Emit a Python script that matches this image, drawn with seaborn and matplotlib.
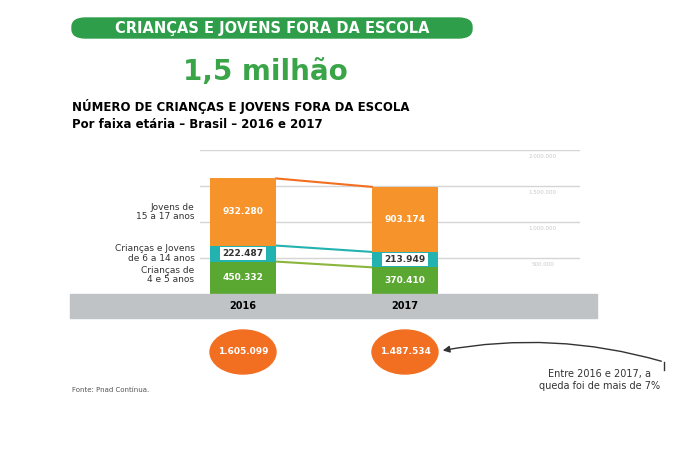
import numpy as np
import pandas as pd
import matplotlib
matplotlib.use("Agg")
import matplotlib.pyplot as plt
import seaborn as sns
from matplotlib.patches import FancyBboxPatch, Circle, Rectangle

anos = ["2016", "2017"]
faixa_4_5 = [450332, 370410]
faixa_6_14 = [222487, 213949]
faixa_15_17 = [932280, 903174]
totais = ["1.605.099", "1.487.534"]
rotulos_faixa = ["Crianças de\n4 e 5 anos", "Crianças e Jovens\nde 6 a 14 anos", "Jovens de\n15 a 17 anos"]
ticks_y = [500000, 1000000, 1500000, 2000000]
ticks_lbl = ["500.000", "1.000.000", "1.500.000", "2.000.000"]

verde = "#5aa832"
teal = "#22b3b0"
laranja = "#f7932b"
laranja_c = "#f26f21"

def fmt(v):
    return f"{v:,}".replace(",", ".")

fig = plt.figure(figsize=(6.75, 4.5), dpi=100)
W, H = 675, 450

def fx(px):
    return px / W

def fy(py):
    return 1 - py / H

# header
fig.patches.append(FancyBboxPatch((fx(72), fy(38)), fx(400), 20 / H, boxstyle="round,pad=0,rounding_size=0.02",
                                  transform=fig.transFigure, color="#2e9e4a", zorder=0))
fig.text(fx(272), fy(28), "CRIANÇAS E JOVENS FORA DA ESCOLA", color="white", fontsize=10.5,
         fontweight="bold", ha="center", va="center")
fig.text(fx(265), fy(72), "1,5 milhão", color="#3aa548", fontsize=20, fontweight="bold", ha="center", va="center")
fig.text(fx(72), fy(107), "NÚMERO DE CRIANÇAS E JOVENS FORA DA ESCOLA", fontsize=8.5, fontweight="bold", va="center")
fig.text(fx(72), fy(124), "Por faixa etária – Brasil – 2016 e 2017", fontsize=8.5, fontweight="bold", va="center")

# grey band
fig.patches.append(Rectangle((fx(70), fy(318)), fx(527), 24 / H, transform=fig.transFigure, color="#bfc3c6", zorder=0))

ax = fig.add_axes([fx(200), fy(294), fx(380), 144 / H])
df = pd.DataFrame({"ano": anos, "a": faixa_4_5, "b": faixa_6_14, "c": faixa_15_17})
df["ab"] = df["a"] + df["b"]
df["abc"] = df["ab"] + df["c"]
w = 66 / 162
sns.barplot(data=df, x="ano", y="abc", color=laranja, width=w, saturation=1, ax=ax, zorder=3)
sns.barplot(data=df, x="ano", y="ab", color=teal, width=w, saturation=1, ax=ax, zorder=3)
sns.barplot(data=df, x="ano", y="a", color=verde, width=w, saturation=1, ax=ax, zorder=3)
ax.set_xlim(-43 / 162, 337 / 162)
ax.set_ylim(0, 2000000)
for s in ax.spines.values():
    s.set_visible(False)
ax.set_xticks([])
ax.set_yticks([])
ax.set_xlabel("")
ax.set_ylabel("")
for t, l in zip(ticks_y, ticks_lbl):
    ax.axhline(t, color="#d5d5d5", lw=1, zorder=1, xmin=0, xmax=1)
    ax.text(1.85, t - 60000, l, color="#c8c8c8", fontsize=4, ha="center", va="top")

# connecting lines
for col, c in [("abc", laranja_c), ("ab", teal), ("a", "#8ab63b")]:
    ax.plot([w / 2, 1 - w / 2], list(df[col]), color=c, lw=1.5, zorder=2)

for i in range(2):
    ax.text(i, df["a"][i] / 2, fmt(faixa_4_5[i]), color="white", fontsize=6.5, fontweight="bold", ha="center", va="center", zorder=5)
    ax.text(i, df["a"][i] + faixa_6_14[i] / 2, fmt(faixa_6_14[i]), color="#333333", fontsize=6.5, fontweight="bold", ha="center", va="center", zorder=5,
            bbox=dict(boxstyle="square,pad=0.25", fc="white", ec="none"))
    ax.text(i, df["ab"][i] + faixa_15_17[i] / 2, fmt(faixa_15_17[i]), color="white", fontsize=6.5, fontweight="bold", ha="center", va="center", zorder=5)

# left category labels
mids = [faixa_4_5[0] / 2 + 40000, df["a"][0] + faixa_6_14[0] / 2, df["ab"][0] + faixa_15_17[0] / 2]
for lbl, m in zip(rotulos_faixa, mids):
    ax.text(-0.3, m, lbl, fontsize=6.5, ha="right", va="center", color="#333333", linespacing=1.1)

# years and totals
for i, px in enumerate([243, 405]):
    fig.text(fx(px), fy(306), anos[i], fontsize=7, fontweight="bold", ha="center", va="center")
    fig.patches.append(Circle((fx(px), fy(352)), 33 / W, transform=fig.transFigure, color=laranja_c, zorder=1))
    fig.text(fx(px), fy(352), totais[i], fontsize=6.5, fontweight="bold", color="white", ha="center", va="center", zorder=2)

fig.text(fx(72), fy(390), "Fonte: Pnad Contínua.", fontsize=5, color="#555555", va="center")
fig.text(fx(600), fy(380), "Entre 2016 e 2017, a\nqueda foi de mais de 7%", fontsize=7, color="#333333",
         ha="center", va="center", linespacing=1.3)
arr = fig.add_axes([0, 0, 1, 1], facecolor="none")
arr.set_xlim(0, W)
arr.set_ylim(H, 0)
arr.axis("off")
arr.plot([664, 664], [370, 362], color="#333333", lw=1)
arr.add_patch(matplotlib.patches.FancyArrowPatch((664, 362), (440, 351), connectionstyle="arc3,rad=0.12",
                                                 arrowstyle="-|>", mutation_scale=10, color="#333333", lw=1))

fig.savefig("out.png", dpi=100)
